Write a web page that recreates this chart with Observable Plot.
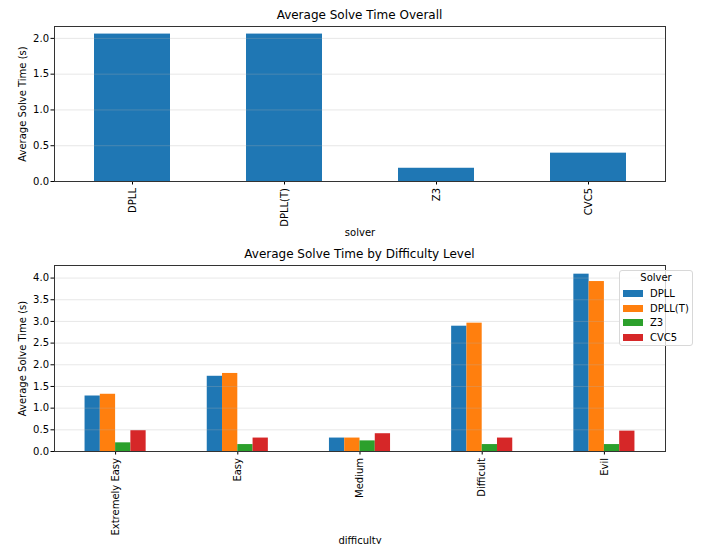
<!DOCTYPE html>
<html><head><meta charset="utf-8">
<script src="https://cdn.jsdelivr.net/npm/d3@7"></script>
<script src="https://cdn.jsdelivr.net/npm/@observablehq/plot@0.6"></script>
<style>
body{margin:0;background:#fff;font-family:"DejaVu Sans",sans-serif;}
#wrap{position:relative;width:709px;height:544px;overflow:hidden;background:#fff}
.title{position:absolute;left:54px;width:611px;text-align:center;font-size:12px;color:#000;line-height:14px}
.panel{position:absolute;left:0}
#legend{position:absolute;left:619px;top:270px;width:74px;height:76px;box-sizing:border-box;border:1px solid #d8d8d8;border-radius:3px;background:rgba(255,255,255,0.8);font-size:10px;color:#000}
#legend .lt{text-align:center;margin-top:1px;line-height:12px;height:14px}
#legend .row{display:flex;align-items:center;height:14.7px}
#legend .sw{width:20px;height:7px;margin-left:3px;margin-right:7px;flex:none}
</style></head>
<body><div id="wrap"></div>
<script>
const solvers = ["DPLL", "DPLL(T)", "Z3", "CVC5"];
const overall = [2.06, 2.06, 0.185, 0.396];
const difficulties = ["Extremely Easy", "Easy", "Medium", "Difficult", "Evil"];
const dpll  = [1.28, 1.735, 0.31, 2.89, 4.09];
const dpllT = [1.32, 1.80, 0.31, 2.96, 3.92];
const z3    = [0.20, 0.16, 0.245, 0.16, 0.16];
const cvc5  = [0.48, 0.31, 0.41, 0.31, 0.47];
const topTicks = [0, 0.5, 1.0, 1.5, 2.0];
const bottomTicks = [0, 0.5, 1.0, 1.5, 2.0, 2.5, 3.0, 3.5, 4.0];
const colors = ["#1f77b4", "#ff7f0e", "#2ca02c", "#d62728"];

const wrap = document.getElementById("wrap");
const fmt = d3.format(".1f");
const baseStyle = {fontFamily: "DejaVu Sans", fontSize: "10px", color: "#000", background: "transparent", overflow: "visible"};

// Top chart
const overallData = solvers.map((s, i) => ({solver: s, value: overall[i]}));
const topPlot = Plot.plot({
  width: 709, height: 244,
  marginLeft: 54, marginRight: 44, marginTop: 26, marginBottom: 63,
  style: baseStyle,
  x: {domain: solvers, paddingInner: 0.5, paddingOuter: 0.25, label: null, axis: null},
  y: {domain: [0, 2.166], label: null, axis: null},
  marks: [
    Plot.barY(overallData, {x: "solver", y: "value", fill: colors[0]}),
    Plot.ruleY(topTicks.slice(1), {stroke: "#b0b0b0", strokeOpacity: 0.3}),
    Plot.axisX({tickRotate: -90, tickSize: 3.5, tickPadding: 3, label: "solver", labelAnchor: "center", labelOffset: 54, labelArrow: "none"}),
    Plot.axisY({ticks: topTicks, tickFormat: fmt, tickSize: 3.5, tickPadding: 2, label: "Average Solve Time (s)", labelAnchor: "center", labelOffset: 36, labelArrow: "none"}),
    Plot.frame({stroke: "#333"})
  ]
});
topPlot.classList.add("panel");
topPlot.style.top = "0px";
wrap.appendChild(topPlot);

// Bottom chart
const series = [dpll, dpllT, z3, cvc5];
const rows = [];
difficulties.forEach((d, i) => {
  series.forEach((vals, j) => {
    rows.push({i, j, difficulty: d, solver: solvers[j], value: vals[i]});
  });
});
const groupWidth = 0.5;
const barW = groupWidth / solvers.length;
const bottomPlot = Plot.plot({
  width: 709, height: 300,
  marginLeft: 54, marginRight: 44, marginTop: 21, marginBottom: 93,
  style: baseStyle,
  x: {domain: [-0.5, difficulties.length - 0.5], label: null, axis: null},
  y: {domain: [0, 4.29], label: null, axis: null},
  color: {domain: solvers, range: colors},
  marks: [
    Plot.rect(rows, {
      x1: d => d.i - groupWidth / 2 + d.j * barW,
      x2: d => d.i - groupWidth / 2 + (d.j + 1) * barW,
      y1: 0, y2: "value", fill: "solver"
    }),
    Plot.ruleY(bottomTicks.slice(1), {stroke: "#b0b0b0", strokeOpacity: 0.3}),
    Plot.axisX({ticks: d3.range(difficulties.length), tickFormat: i => difficulties[i], tickRotate: -90, tickSize: 3.5, tickPadding: 3, label: "difficulty", labelAnchor: "center", labelOffset: 92, labelArrow: "none"}),
    Plot.axisY({ticks: bottomTicks, tickFormat: fmt, tickSize: 3.5, tickPadding: 2, label: "Average Solve Time (s)", labelAnchor: "center", labelOffset: 36, labelArrow: "none"}),
    Plot.frame({stroke: "#333"})
  ]
});
bottomPlot.classList.add("panel");
bottomPlot.style.top = "244px";
wrap.appendChild(bottomPlot);

// Titles
function addTitle(text, top) {
  const t = document.createElement("div");
  t.className = "title";
  t.textContent = text;
  t.style.top = top + "px";
  wrap.appendChild(t);
}
addTitle("Average Solve Time Overall", 8);
addTitle("Average Solve Time by Difficulty Level", 247);

// Legend
const lg = document.createElement("div");
lg.id = "legend";
const lt = document.createElement("div");
lt.className = "lt";
lt.textContent = "Solver";
lg.appendChild(lt);
solvers.forEach((s, j) => {
  const r = document.createElement("div");
  r.className = "row";
  const sw = document.createElement("span");
  sw.className = "sw";
  sw.style.background = colors[j];
  const tx = document.createElement("span");
  tx.textContent = s;
  r.appendChild(sw); r.appendChild(tx);
  lg.appendChild(r);
});
wrap.appendChild(lg);
</script>
</body></html>
